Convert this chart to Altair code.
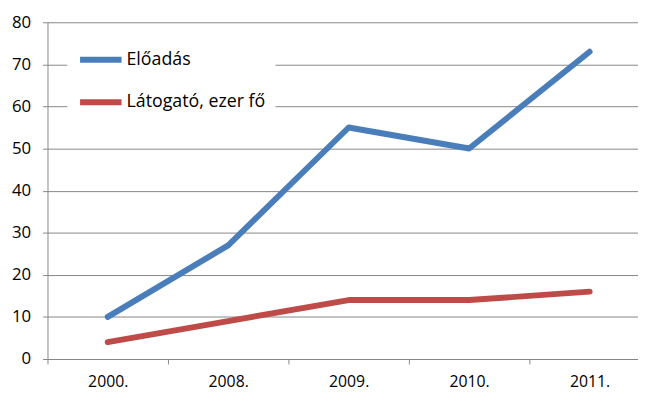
import altair as alt
import pandas as pd

years = ["2000.", "2008.", "2009.", "2010.", "2011."]
eloadas = [10, 27, 55, 50, 73]
latogato = [4, 9, 14, 14, 16]
series_names = ["Előadás", "Látogató, ezer fő"]
colors = ["#4A7EBB", "#BE4B48"]

rows = []
for name, vals in zip(series_names, [eloadas, latogato]):
    for i, (yr, v) in enumerate(zip(years, vals)):
        rows.append({"pos": i + 0.5, "year": yr, "value": v, "series": name})
df = pd.DataFrame(rows)

label_js = "[" + ",".join("'" + y + "'" for y in years) + "]"
FONT = "Open Sans"

chart = alt.Chart(df).mark_line(strokeWidth=6, strokeCap="round", strokeJoin="round").encode(
    x=alt.X("pos:Q",
            scale=alt.Scale(domain=[0, 5], range=[0, 610], nice=False, zero=False),
            axis=alt.Axis(values=[0, 1, 2, 3, 4, 5], title=None, grid=False,
                          labelExpr=label_js + "[datum.value] || ''",
                          labelOffset=61, labelPadding=10, tickSize=5,
                          tickColor="#868686", domainColor="#868686",
                          labelFont=FONT, labelFontSize=16, labelColor="#000000",
                          labelFlush=False, labelOverlap=False)),
    y=alt.Y("value:Q",
            scale=alt.Scale(domain=[0, 80], nice=False),
            axis=alt.Axis(values=list(range(0, 81, 10)), title=None,
                          grid=True, gridColor="#868686", gridWidth=1,
                          tickSize=5, tickColor="#868686", domainColor="#868686",
                          labelPadding=12, labelFont=FONT, labelFontSize=17,
                          labelColor="#000000")),
    color=alt.Color("series:N",
                    scale=alt.Scale(domain=series_names, range=colors),
                    sort=series_names,
                    legend=alt.Legend(title=None, orient="none", legendX=20, legendY=4,
                                      symbolType="stroke", symbolSize=1764,
                                      symbolStrokeWidth=6, labelOffset=2,
                                      rowPadding=7, padding=10, fillColor="white",
                                      labelFont=FONT, labelFontSize=18,
                                      labelColor="#000000")),
    order="pos:Q",
).properties(
    width=598, height=341,
    autosize=alt.AutoSizeParams(type="none"),
    padding={"left": 40, "top": 12, "right": 0, "bottom": 33},
).configure_view(stroke=None)

chart.save("out.html", embed_options={"renderer": "svg", "actions": False})
